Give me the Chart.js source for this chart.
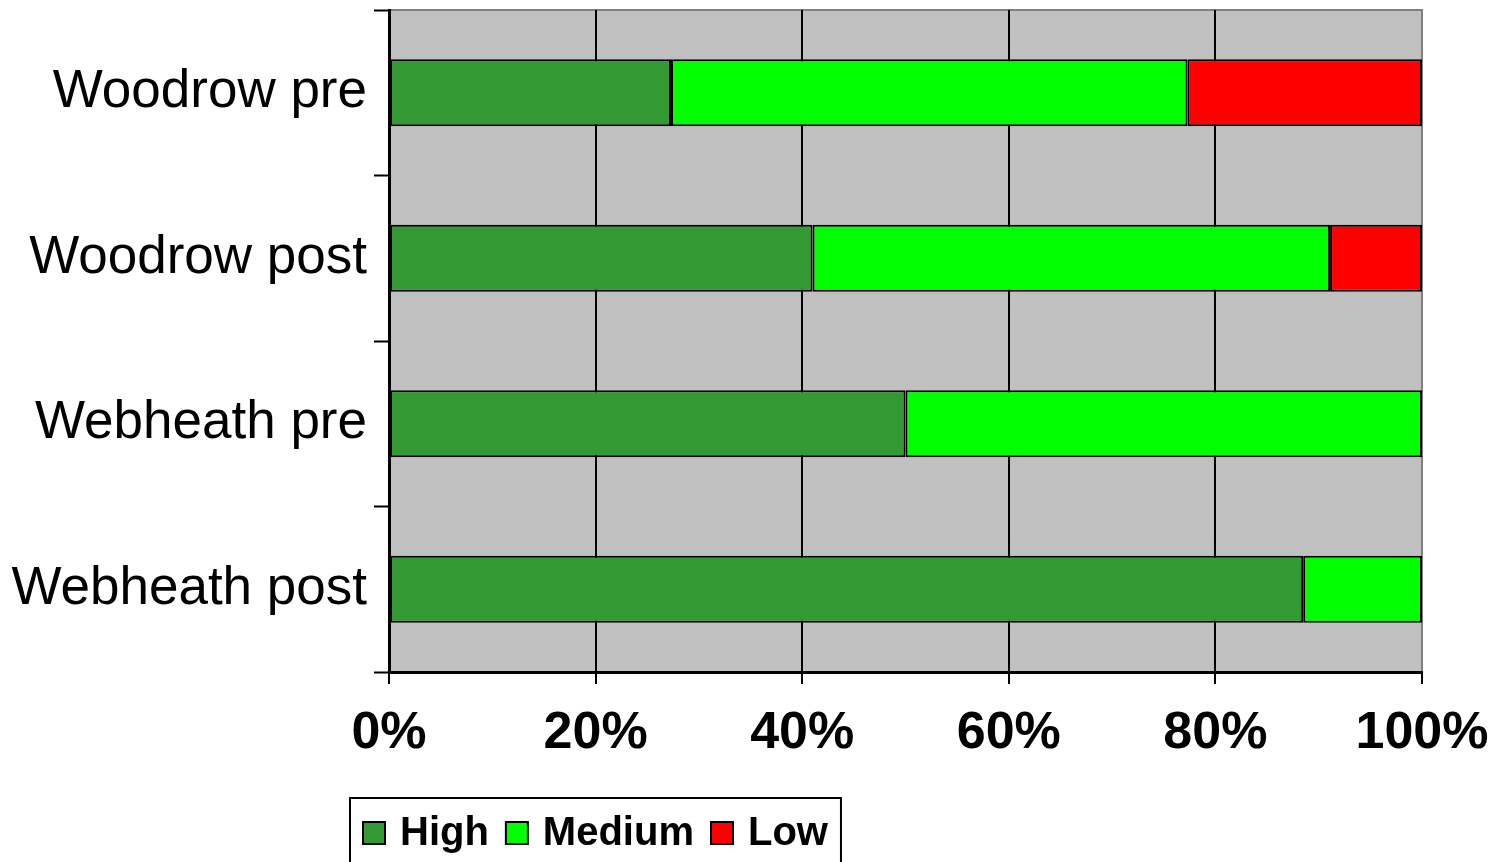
<!DOCTYPE html>
<html>
<head>
<meta charset="utf-8">
<title>High / Medium / Low</title>
<script src="https://cdn.jsdelivr.net/npm/chart.js@4/dist/chart.umd.min.js"></script>
<style>
  html, body { margin: 0; padding: 0; background: #ffffff; }
  #wrap { width: 1499px; height: 862px; }
</style>
</head>
<body>
<div id="wrap"><canvas id="chart" width="1499" height="862"></canvas></div>
<script>
// Groups, top to bottom
const categories = ['Woodrow pre', 'Woodrow post', 'Webheath pre', 'Webheath post'];

// Share of each rating per group, in percent
const highValues   = [27.3, 41.0, 50.0, 88.5];
const mediumValues = [50.0, 50.1, 50.0, 11.5];
const lowValues    = [22.7,  8.9,  0.0,  0.0];

const seriesNames  = ['High', 'Medium', 'Low'];
const seriesColors = ['#339933', '#00ff00', '#ff0000'];

const xTickValues = [0, 20, 40, 60, 80, 100];

const FONT = '"Liberation Sans", Arial, Helvetica, sans-serif';

// Grey plot background with a grey frame on the top and right sides
const plotBackground = {
  id: 'plotBackground',
  beforeDraw(chart) {
    const { ctx, chartArea: a } = chart;
    ctx.save();
    ctx.fillStyle = '#c0c0c0';
    ctx.fillRect(a.left, a.top, a.right - a.left, a.bottom - a.top);
    ctx.strokeStyle = '#808080';
    ctx.lineWidth = 2;
    ctx.beginPath();
    ctx.moveTo(a.left, a.top);
    ctx.lineTo(a.right, a.top);
    ctx.lineTo(a.right, a.bottom);
    ctx.stroke();
    ctx.restore();
  }
};

// Boxed legend below the axis, built from the datasets
const boxedLegend = {
  id: 'boxedLegend',
  afterDraw(chart) {
    const { ctx } = chart;
    const sets = chart.data.datasets;
    ctx.save();
    ctx.font = 'bold 40px ' + FONT;
    const sq = 22, gapText = 15, gapItem = 17, padX = 13;
    let total = padX * 2;
    sets.forEach((d, i) => {
      total += sq + gapText + ctx.measureText(d.label).width;
      if (i < sets.length - 1) total += gapItem;
    });
    const left = 350, top = 798, h = 80;
    ctx.fillStyle = '#ffffff';
    ctx.fillRect(left, top, total, h);
    ctx.strokeStyle = '#000000';
    ctx.lineWidth = 2;
    ctx.strokeRect(left, top, total, h);
    let x = left + padX;
    const cy = 833;
    ctx.textBaseline = 'middle';
    ctx.textAlign = 'left';
    sets.forEach((d) => {
      ctx.fillStyle = d.backgroundColor;
      ctx.fillRect(x, cy - sq / 2, sq, sq);
      ctx.strokeStyle = '#000000';
      ctx.lineWidth = 2;
      ctx.strokeRect(x, cy - sq / 2, sq, sq);
      x += sq + gapText;
      ctx.fillStyle = '#000000';
      ctx.fillText(d.label, x, cy + 1);
      x += ctx.measureText(d.label).width + gapItem;
    });
    ctx.restore();
  }
};

const seriesValues = [highValues, mediumValues, lowValues];

new Chart(document.getElementById('chart'), {
  type: 'bar',
  data: {
    labels: categories,
    datasets: seriesNames.map((name, i) => ({
      label: name,
      data: seriesValues[i],
      backgroundColor: seriesColors[i],
      borderColor: '#000000',
      borderWidth: 2,
      borderSkipped: false,
      categoryPercentage: 1,
      barPercentage: 0.405
    }))
  },
  options: {
    indexAxis: 'y',
    responsive: false,
    animation: false,
    layout: { padding: { top: 10, right: 77, left: 0, bottom: 0 } },
    plugins: {
      legend: { display: false },
      tooltip: { enabled: false }
    },
    scales: {
      x: {
        stacked: true,
        min: 0,
        max: 100,
        afterBuildTicks(scale) {
          scale.ticks = xTickValues.map(v => ({ value: v }));
        },
        afterFit(scale) {
          scale.height = 190;
          scale.paddingLeft = 0;
          scale.paddingRight = 0;
        },
        border: { display: true, color: '#000000', width: 3 },
        grid: {
          color: (c) => (c.tick && c.tick.value === 100 ? '#808080' : '#000000'),
          lineWidth: 2,
          drawTicks: true,
          tickLength: 12,
          tickColor: '#000000',
          tickWidth: 2
        },
        ticks: {
          color: '#000000',
          padding: 18,
          font: { family: FONT, size: 52, weight: 'bold' },
          maxRotation: 0,
          callback: (v) => v + '%'
        }
      },
      y: {
        stacked: true,
        afterFit(scale) {
          scale.width = 389;
          scale.paddingTop = 0;
          scale.paddingBottom = 0;
        },
        border: { display: true, color: '#000000', width: 3 },
        grid: {
          offset: true,
          drawOnChartArea: false,
          drawTicks: true,
          tickLength: 15,
          tickColor: '#000000',
          tickWidth: 2
        },
        ticks: {
          color: '#000000',
          padding: 7,
          font: { family: FONT, size: 53 }
        }
      }
    }
  },
  plugins: [plotBackground, boxedLegend]
});
</script>
</body>
</html>
